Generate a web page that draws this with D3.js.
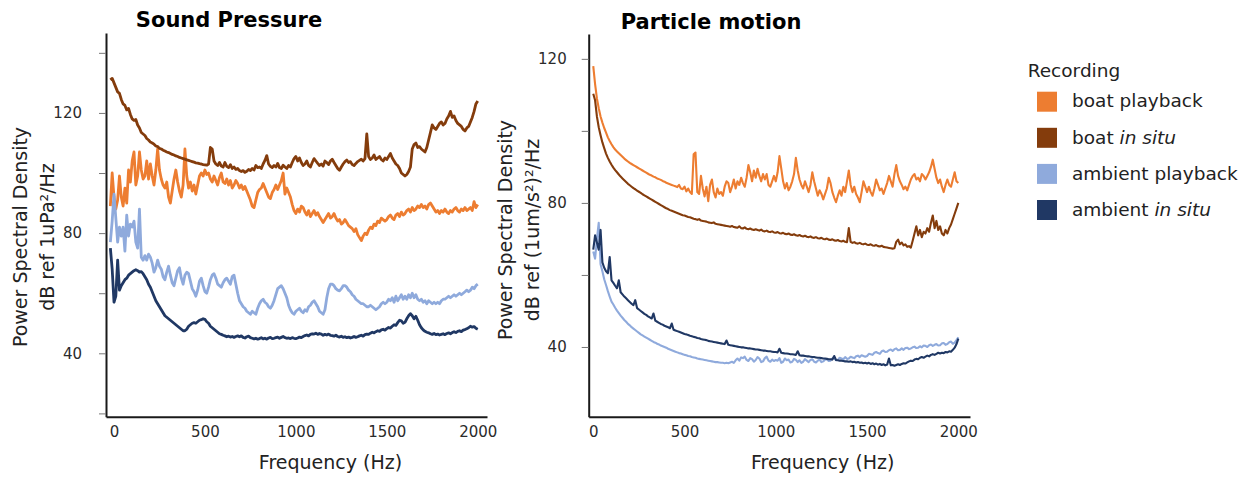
<!DOCTYPE html>
<html>
<head>
<meta charset="utf-8">
<script src="https://cdn.jsdelivr.net/npm/d3@7"></script>
<style>
  html, body { margin: 0; padding: 0; background: #fff; }
  svg { display: block; font-family: "DejaVu Sans", Verdana, sans-serif; }
</style>
</head>
<body>
<svg id="chart" width="1253" height="477"></svg>
<script>
// Frequency grids (Hz), one sample every 10 Hz
const pressureFreq = d3.range(-20, 2001, 10);
const motionFreq = d3.range(0, 2001, 10);

const recordings = ["boat playback", "boat in situ", "ambient playback", "ambient in situ"];
const recordingColors = ["#ED7D31", "#843C0C", "#8FAADC", "#203864"];

const xTicks = [0, 500, 1000, 1500, 2000];
const pressureYTicks = [20, 40, 60, 80, 100, 120, 140];
const motionYTicks = [40, 60, 80, 100, 120];
const labelledYTicks = [40, 80, 120];

// Sound pressure PSD, dB re 1 uPa^2/Hz
const pressureBoatPlayback = [
  89, 100,
  92, 88, 91, 99, 92, 89, 95, 90, 101, 97,
  104, 107, 96, 99, 107, 101, 98, 99, 104, 98,
  103, 99, 96, 101, 108, 101, 98, 96, 95, 97,
  92, 90, 94, 98, 101, 97, 94, 92, 96, 108,
  99, 95, 97, 94, 96, 93, 96, 99, 100, 99,
  101, 99.5, 100, 98, 97, 99, 97.5, 96, 98.5, 100,
  97, 96.5, 98, 96, 97.5, 95, 96, 97.5, 96.5, 95,
  96, 94.5, 95.5, 94, 92.5, 91, 89, 88.5, 91, 93.5,
  94.5, 95, 96.5, 95, 93.5, 92, 91.5, 93.5, 94.5, 96,
  94.5, 96, 97.5, 100, 93, 95, 93.5, 92, 89.5, 87.5,
  86.5, 88, 87, 89, 88.5, 87, 86, 87.5, 85.5, 86.5,
  87.5, 86, 86.8, 85.5, 84.5, 83.5, 84.5, 85.5, 86.5, 85,
  85.5, 86.5, 85, 84, 84.5, 83, 83.5, 84.5, 83.5, 82.5,
  82, 81.5, 80.5, 81.5, 79.5, 78.5, 77.5, 79, 80, 79.5,
  81, 82, 81.5, 83, 82.5, 84, 83.5, 85, 84.5, 84,
  84.5, 85.5, 86, 85, 84.5, 86, 86.5, 85.5, 87, 86,
  86.5, 87.5, 88, 87, 88.5, 87.5, 88, 89, 88.5, 89.5,
  88.5, 89, 88, 89.5, 90, 89, 88, 87, 87.5, 86.5,
  87.5, 87, 88, 87, 86.5, 87.5, 87, 88, 88.5, 87.5,
  87, 88, 87.5, 88.5, 87.5, 88, 88.5, 87.5, 90.5, 88.5,
  89.5
];
const pressureBoatInSitu = [
  131, 131.5,
  130, 128.5, 127, 126.5, 124.5, 123, 122.5, 121, 121.5, 119.5,
  118, 117.5, 117.8, 116, 115, 113.5, 113, 112.5, 111.5, 111,
  110.3, 110, 109.6, 109, 108.8, 108.2, 108, 107.6, 107.3, 107,
  106.8, 106.5, 106.2, 106, 105.7, 105.5, 105.2, 105, 104.8, 104.6,
  104.4, 104.2, 104, 103.8, 103.6, 103.4, 103.3, 103.1, 103, 102.8,
  102.7, 102.6, 103, 108.5, 108, 104, 103, 102.5, 103.5, 102.3,
  102, 103.5, 102.2, 101.8, 102.8, 101.5, 102, 101.2, 101.5, 100.8,
  100.5, 100.8, 100.2, 100.6, 101.2, 100.8, 101.5, 101, 102.5, 101.8,
  102, 101.5, 103, 104.2, 105.8, 103, 102.2, 101.8, 102.5, 102,
  103.2, 101.8, 101.5, 102.6, 102, 101.5, 102.5, 102, 103.5, 104.8,
  105.5, 104, 105, 103.5, 102.5, 103, 104, 102.5, 102, 103.5,
  104.8, 104, 103.2, 102.5, 103, 102.3, 104, 103.5, 102.8, 104,
  104.6, 103.5, 102.5, 101.5, 100.9, 102, 103, 103.8, 104.3, 103.5,
  103.8, 102.8, 102.5, 103.2, 103.8, 104.2, 104.6, 104, 104.8, 113,
  105.5, 104.5, 105, 106, 104.5, 105, 105.5, 104.5, 104, 105,
  104.5, 105.5, 106.5, 105, 104, 103, 102.5, 101.5, 100, 99.5,
  99, 99.5, 100.5, 102, 108, 109.5, 110, 108.5, 108.8, 108,
  107.5, 107, 108.5, 111, 113.5, 116, 115, 114.5, 115.5, 116.5,
  117, 116, 116.5, 118, 119, 120.5, 118.5, 119, 117.5, 116.5,
  116, 115.5, 114.5, 114, 115, 115.5, 117, 118.5, 120.5, 123,
  124
];
const pressureAmbientPlayback = [
  77, 84,
  93, 85, 77, 82, 79, 82, 74, 86, 79, 83,
  82, 84, 77, 75, 88, 72, 71, 72.5, 71, 73,
  72, 70, 67, 68.5, 71, 69, 68, 65.5, 64.5, 67,
  69, 66, 63.5, 62.5, 65, 67.5, 68.5, 65, 63, 66,
  67, 66.5, 64, 61.5, 60.5, 59, 61, 64, 65, 62.5,
  60.5, 60, 62, 64.5, 66, 66.5, 65, 63, 62.5, 62,
  63.5, 64.5, 65, 64, 63, 65.5, 66, 63, 60, 57.5,
  56.5, 55.5, 55, 54, 53.5, 53, 54, 53.5, 53, 55,
  56.5, 57.5, 58, 57, 56.5, 55.5, 55, 56, 57.5, 59.5,
  61.5, 62, 62.5, 61.5, 60, 58.5, 56, 54.5, 53.5, 53,
  54, 54.5, 55, 54, 53.5, 54.5, 54, 55.5, 56, 57,
  57.5, 56.5, 55.5, 54, 53.5, 53, 54.5, 58.5, 61.5, 63,
  63, 62.5, 61.5, 61, 60.8, 61.5, 62.5, 62.5, 62, 61,
  60.5, 59.5, 59, 58, 57.5, 57, 56.5, 56.5, 56, 55.5,
  55.5, 56, 55.5, 55, 54.5, 55, 55.5, 56.5, 57, 56.5,
  57, 58, 57.5, 58.5, 57, 59, 57.5, 58.5, 59.5, 58,
  59, 58, 59.5, 58.5, 60, 58.5, 59.5, 58, 57.5, 58,
  57, 57.5, 56.5, 57.5, 57, 56.5, 57, 56.5, 57, 56.5,
  57.5, 58, 58, 58.5, 59, 58.5, 59, 59.5, 59, 59.5,
  60, 59.5, 60, 60.5, 61, 60.5, 61, 62, 61.5, 62.5,
  63
];
const pressureAmbientInSitu = [
  75, 68,
  57, 59, 71, 61, 62.5, 63.5, 64.5, 65, 66, 66.5,
  67, 67.5, 67.8, 67.5, 67, 67.2, 66.5, 65.5, 64.5, 63,
  62, 60.5, 59, 57.5, 56.5, 55.5, 54.5, 53.5, 52.5, 52,
  51.5, 51, 50.5, 50, 49.5, 49, 48.5, 48, 47.5, 47.5,
  48, 49, 49.5, 50, 50.2, 50, 50.5, 51, 51.2, 51.5,
  51.3, 50.5, 50, 49, 48.5, 48, 47.5, 47, 46.5, 46.3,
  46, 45.8, 45.5, 45.7, 45.4, 45.6, 45.3, 45.6, 45.8, 45.5,
  45.8, 45.3, 45.1, 45.5, 45.7, 45.2, 45, 44.8, 45, 44.7,
  44.9, 45.2, 44.8, 45, 44.7, 45.1, 45.3, 44.9, 45, 45.2,
  45.4, 45, 45.3, 45.6, 45.2, 45, 45.1, 44.9, 45.2, 45,
  44.9, 45.1, 45.4, 45.2, 45.6, 45.9, 46.1, 45.8, 46.3, 46.5,
  46.4, 46.7, 46.3, 46.6, 46.4, 46, 46.3, 46.1, 46.4, 46,
  45.9, 45.7, 46, 45.6, 45.4, 45.7, 45.3, 45.5, 45.2, 45.4,
  45.1, 45.3, 45.6, 45.3, 45.5, 45.8, 46, 45.7, 46.2, 46.4,
  46.3, 46.7, 47, 46.8, 47.2, 47.5, 47.3, 47.8, 48, 47.7,
  48.2, 48.6, 48.4, 49, 49.5, 49.3, 50.2, 51, 50.8, 50,
  50.3, 51.5, 52.5, 53.2, 52.5, 51.5, 52.3, 51, 49.5, 48.5,
  47.8, 47.3, 47, 46.8, 46.5, 46.3, 46.6, 46.2, 46.4, 46.1,
  46.3, 46.5, 46.2, 46.6, 46.8, 46.5, 46.9, 47.2, 46.9, 47.3,
  47.5, 47.2, 47.7, 47.9, 48.2, 48.5, 49, 48.7, 48.9, 48.3,
  48
];

// Particle motion PSD, dB re (1 um/s^2)^2/Hz
const motionBoatPlayback = [
  118, 113, 109, 106.3, 104, 102.3, 100.8, 99.5, 98.2, 97.2,
  96.3, 95.5, 94.8, 94.3, 93.8, 93.3, 92.8, 92.3, 91.9, 91.5,
  91.1, 90.8, 90.5, 90.2, 89.9, 89.6, 89.3, 89, 88.7, 88.4,
  88.1, 87.8, 87.6, 87.3, 87.1, 86.8, 86.6, 86.4, 86.1, 85.9,
  85.6, 85.4, 85.2, 85, 84.8, 84.6, 84.4, 85, 84, 83.8,
  84.5, 83.2, 84, 83, 82.5, 93.5, 94, 83, 82.5, 87.5,
  84, 81.8, 84.5, 80.5, 85, 86.5, 83, 81.5, 84, 82.5,
  83, 82, 84.5, 86, 85.5, 83, 84.5, 86.5, 84, 86,
  85, 87, 85.5, 84.5, 87, 90.5, 88.5, 86, 89, 87,
  89.5, 87.5, 86, 88, 86.5, 88, 85, 84.5, 86, 87.5,
  86, 88.5, 93, 89.5, 86, 84, 85.5, 83.5, 84.5, 86,
  88, 92.5, 89, 86.5, 85, 84, 86, 84.5, 83, 85,
  88.5, 86, 84, 82, 83.5, 82.5, 81, 82.5, 84, 87,
  85.5, 83, 81.5, 80.2, 82, 83.5, 82, 84.5, 83, 86,
  89, 85, 83, 84.5, 82.5, 81.5, 80.2, 83, 86, 84.5,
  83, 84.5, 83, 82, 84, 86.5, 85, 83.5, 84, 82.5,
  84, 85.5, 87.5, 86, 84.5, 88, 90.5, 87.5, 86, 85,
  83.8, 84.5, 83.5, 85, 86.5, 87.5, 88, 86.5, 87, 86,
  88, 87.5, 86.5, 87.5, 88.5, 90, 92, 89.5, 87, 85.5,
  86.5, 84.5, 83, 85, 86.5, 85, 84.5, 86.5, 88.5, 86,
  85.5
];
const motionBoatInSitu = [
  110.3, 108.5, 104, 101, 98.8, 96.8, 95.2, 93.7, 92.5, 91.5,
  90.6, 89.8, 89.1, 88.5, 87.9, 87.3, 86.8, 86.3, 85.8, 85.3,
  84.9, 84.5, 84.1, 83.8, 83.4, 83.1, 82.8, 82.4, 82.1, 81.8,
  81.5, 81.2, 80.9, 80.6, 80.3, 80, 79.7, 79.4, 79.1, 78.8,
  78.5, 78.3, 78, 77.8, 77.6, 77.4, 77.2, 77, 76.8, 76.6,
  76.5, 76.3, 76.1, 76, 75.8, 75.6, 75.5, 75.3, 75.5, 75.1,
  75, 74.9, 74.8, 74.6, 74.5, 74.4, 74.6, 74.2, 74.1, 74,
  73.9, 73.8, 73.7, 73.6, 73.5, 73.4, 73.6, 73.3, 73.2, 73.1,
  73.5, 73, 72.9, 73.2, 72.8, 72.7, 72.9, 72.6, 72.5, 72.7,
  72.5, 72.3, 72.6, 72.2, 72.1, 72.3, 72, 71.9, 72.1, 71.8,
  71.7, 71.9, 71.6, 71.5, 71.7, 71.4, 71.3, 71.5, 71.2, 71.1,
  71.3, 71, 70.9, 71.1, 70.8, 70.7, 70.9, 70.6, 70.5, 70.7,
  70.4, 70.3, 70.5, 70.2, 70.1, 70.3, 70, 69.9, 70.1, 69.8,
  69.7, 69.9, 69.6, 69.5, 69.7, 69.4, 69.3, 69.5, 69.2, 69.1,
  73, 69.2, 68.9, 69.1, 68.8, 68.7, 68.9, 68.6, 68.5, 68.7,
  68.4, 68.3, 68.5, 68.2, 68.1, 68.3, 68, 67.9, 68.1, 67.8,
  67.7, 67.6, 67.5, 67.4, 67.3, 67.4, 69.2, 69.8, 68.5, 69,
  68.2, 68.5, 67.8, 68, 67.6, 69.5, 71.5, 73.5, 71, 72.5,
  70.5, 72, 71.5, 73, 72, 74.5, 76.5, 73, 75, 72.5,
  73.5, 71.5, 71, 72.5, 71.5, 73, 74, 75.5, 77, 78.5,
  80
];
const motionAmbientPlayback = [
  66.5, 64.5, 70, 74.5, 63, 61, 58.8, 57.2, 55.5, 54,
  52.6, 51.8, 50.9, 50.1, 49.4, 48.7, 48.1, 47.5, 47, 46.4,
  46, 45.5, 45.1, 44.7, 44.3, 43.9, 43.5, 43.2, 42.9, 42.6,
  42.3, 42, 41.7, 41.4, 41.2, 40.9, 40.7, 40.4, 40.2, 40,
  39.8, 39.5, 39.3, 39.1, 38.9, 38.7, 38.5, 38.3, 38.2, 38,
  37.8, 37.7, 37.5, 37.4, 37.2, 37.1, 37, 36.8, 36.7, 36.6,
  36.5, 36.4, 36.3, 36.2, 36.1, 36, 35.9, 35.8, 35.8, 35.7,
  35.6, 35.6, 35.5, 35.6, 35.5, 35.7, 35.9, 35.6, 36.3, 36.8,
  36.2, 37.1, 36.9, 37.3, 36.4, 36.1, 36.9, 36.6, 35.9, 36.4,
  37.2, 36.8, 35.8, 36, 36.9, 37.3, 36.2, 35.9, 36.5, 36.1,
  36.4, 36.2, 36.9, 35.6, 35.9, 36.8, 36.3, 36.5, 35.7, 35.9,
  36.7, 36.4, 35.8, 36.3, 35.6, 35.9, 36.6, 36.2, 35.8, 36.4,
  36.6, 35.9, 35.7, 36.2, 36.5, 35.8, 36, 36.5, 36.6, 36.1,
  36.2, 36.8, 36.9, 36.3, 36.4, 37, 36.8, 36.6, 37.2, 36.7,
  36.8, 37.3, 37.1, 36.9, 37.4, 37.6, 37.2, 37.7, 37.5, 37.3,
  37.5, 38.1, 38, 37.8, 38.4, 38.6, 38.3, 38.1, 38.8, 39,
  38.6, 38.7, 39.1, 39.3, 38.9, 39.4, 39.6, 39.1, 39.2, 39.6,
  39.2, 39.7, 39.8, 39.4, 39.6, 39.9, 40.1, 39.7, 39.8, 40.2,
  39.9, 40.4, 40.3, 40, 40.5, 40.7, 40.3, 40.6, 40.8, 40.4,
  40.5, 41, 41.1, 40.6, 40.8, 41.3, 41.5, 40.9, 41.2, 41.9,
  42.7
];
const motionAmbientInSitu = [
  67, 71, 69, 67, 72.5, 63.5, 62, 61, 60.5, 65,
  58.5, 57.8, 57, 56.3, 58.5, 55.2, 54.6, 54, 53.5, 53,
  52.5, 52, 51.6, 53, 50.8, 50.4, 50, 49.6, 49.2, 48.9,
  48.5, 48.2, 47.9, 49.3, 47.3, 47, 46.7, 46.4, 46.2, 45.9,
  45.7, 45.5, 45.2, 46.5, 44.8, 44.6, 44.4, 44.2, 44, 43.8,
  43.6, 43.5, 43.3, 43.1, 43, 42.8, 42.7, 42.5, 42.4, 42.2,
  42.1, 42, 41.9, 41.7, 41.6, 41.5, 41.4, 41.3, 41.2, 41.1,
  41, 40.9, 40.8, 41.8, 40.6, 40.5, 40.4, 40.3, 40.2, 40.1,
  40, 39.9, 39.9, 39.8, 39.7, 39.6, 39.6, 39.5, 39.4, 39.3,
  39.3, 39.2, 39.1, 39, 39, 38.9, 38.8, 38.8, 38.7, 38.6,
  38.6, 38.5, 39.5, 38.4, 38.3, 38.2, 38.2, 38.1, 38, 38,
  37.9, 37.8, 38.8, 37.7, 37.6, 37.6, 37.5, 37.4, 37.4, 37.3,
  37.2, 37.2, 37.1, 37, 37, 36.9, 36.8, 36.8, 36.7, 36.6,
  36.6, 36.5, 37.5, 36.4, 36.3, 36.2, 36.2, 36.1, 36, 36,
  35.9, 36, 35.8, 35.9, 35.7, 35.8, 35.6, 35.7, 35.5, 35.6,
  35.4, 35.6, 35.3, 35.5, 35.2, 35.4, 35.1, 35.3, 35, 35.2,
  34.9, 35.1, 36.8, 34.9, 35, 34.8, 35, 35.2, 35, 35.3,
  35.5, 35.4, 35.7, 36, 36.2, 36.1, 36.5, 36.7, 36.6, 37,
  37.2, 37, 37.3, 37.6, 37.4, 37.8, 38, 37.8, 38.1, 38.4,
  38.2, 38.4, 38.3, 38.6, 38.5, 38.8, 38.7, 39.2, 39.8, 40.8,
  42.3
];

const svg = d3.select("#chart");

function drawPanel(p) {
  const g = svg.append("g");
  const x = d3.scaleLinear().domain(p.xDomain).range(p.xRange);
  const y = d3.scaleLinear().domain(p.yDomain).range(p.yRange);

  const line = d3.line()
    .x((d, i) => x(p.freq[i]))
    .y(d => y(d))
    .curve(d3.curveLinear);

  g.selectAll("path.psd")
    .data(p.series)
    .join("path")
    .attr("class", "psd")
    .attr("d", d => line(d))
    .attr("fill", "none")
    .attr("stroke", (d, i) => recordingColors[i])
    .attr("stroke-width", p.lineWidth)
    .attr("stroke-linejoin", "round");

  const yAxis = d3.axisLeft(y)
    .tickValues(p.yTicks)
    .tickSize(7)
    .tickSizeOuter(0)
    .tickPadding(p.yPad)
    .tickFormat(d => labelledYTicks.includes(d) ? d : "");
  const ya = g.append("g")
    .attr("transform", `translate(${p.xRange[0]},0)`)
    .call(yAxis);

  const xAxis = d3.axisBottom(x)
    .tickValues(xTicks)
    .tickSize(0)
    .tickSizeOuter(0)
    .tickPadding(9.5)
    .tickFormat(d3.format("d"));
  const xa = g.append("g")
    .attr("transform", `translate(0,${p.yRange[0]})`)
    .call(xAxis);

  [ya, xa].forEach(a => {
    a.select(".domain").attr("stroke", "#1a1a1a").attr("stroke-width", 2);
    a.selectAll(".tick line").attr("stroke", "#777").attr("stroke-width", 1);
    a.selectAll(".tick text")
      .attr("fill", "#2b2b2b")
      .style("font-size", "15px")
      .style("font-family", '"DejaVu Sans", Verdana, sans-serif');
  });

  // panel title
  g.append("text")
    .attr("x", p.titleX).attr("y", p.titleY)
    .attr("text-anchor", "middle")
    .style("font-size", "21px").style("font-weight", "bold")
    .attr("fill", "#000")
    .text(p.title);

  // x-axis title
  g.append("text")
    .attr("x", p.xTitleX).attr("y", 469)
    .attr("text-anchor", "middle")
    .style("font-size", "19px")
    .attr("fill", "#222")
    .text("Frequency (Hz)");

  // y-axis title, two lines
  p.yTitle.forEach((t, i) => {
    g.append("text")
      .attr("transform", `translate(${p.yTitleX[i]},${p.yTitleY}) rotate(-90)`)
      .attr("text-anchor", "middle")
      .style("font-size", "19px")
      .attr("fill", "#222")
      .text(t);
  });
}

drawPanel({
  freq: pressureFreq,
  series: [pressureBoatPlayback, pressureBoatInSitu, pressureAmbientPlayback, pressureAmbientInSitu],
  xDomain: [-44, 2051], xRange: [106, 487],
  yDomain: [18.9, 146.6], yRange: [416.7, 33],
  yTicks: pressureYTicks, yPad: 17,
  lineWidth: 2.8,
  title: "Sound Pressure", titleX: 229, titleY: 27,
  xTitleX: 330.5,
  yTitle: ["Power Spectral Density", "dB ref 1uPa\u00B2/Hz"],
  yTitleX: [27, 54], yTitleY: 237
});

drawPanel({
  freq: motionFreq,
  series: [motionBoatPlayback, motionBoatInSitu, motionAmbientPlayback, motionAmbientInSitu],
  xDomain: [-25, 2064], xRange: [588.7, 970],
  yDomain: [20.64, 126.9], yRange: [416.7, 34],
  yTicks: motionYTicks, yPad: 15,
  lineWidth: 2.1,
  title: "Particle motion", titleX: 711, titleY: 29,
  xTitleX: 822.7,
  yTitle: ["Power Spectral Density", "dB ref (1um/s\u00B2)\u00B2/Hz"],
  yTitleX: [512, 539], yTitleY: 230
});

// legend
const legend = svg.append("g").attr("transform", "translate(1027.7,0)");
legend.append("text")
  .attr("x", 0).attr("y", 77)
  .style("font-size", "18.5px")
  .attr("fill", "#222")
  .text("Recording");

const legendParts = [
  ["boat playback", ""],
  ["boat ", "in situ"],
  ["ambient playback", ""],
  ["ambient ", "in situ"]
];
const rows = legend.selectAll("g.row")
  .data(recordings)
  .join("g")
  .attr("class", "row")
  .attr("transform", (d, i) => `translate(0,${91.7 + i * 36.1})`);
rows.append("rect")
  .attr("x", 9.3).attr("y", 0)
  .attr("width", 20).attr("height", 20)
  .attr("fill", (d, i) => recordingColors[i]);
rows.append("text")
  .attr("x", 44.3).attr("y", 15.7)
  .style("font-size", "18.5px")
  .attr("fill", "#222")
  .each(function (d, i) {
    const t = d3.select(this);
    t.append("tspan").text(legendParts[i][0]);
    if (legendParts[i][1]) t.append("tspan").style("font-style", "italic").text(legendParts[i][1]);
  });
</script>
</body>
</html>
